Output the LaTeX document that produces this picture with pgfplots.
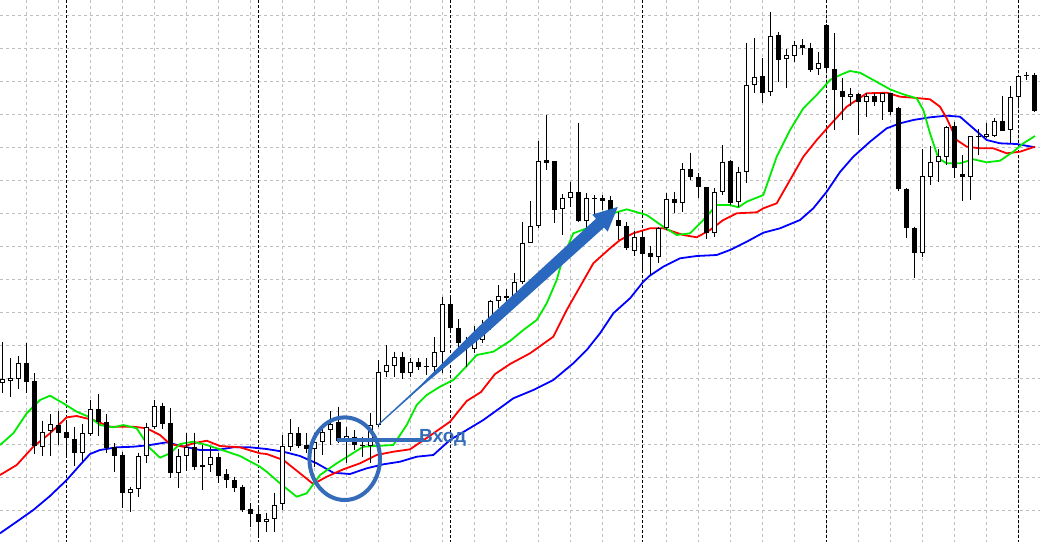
\documentclass[border=0pt]{standalone}
\usepackage{pgfplots}
\usepackage{pgfplotstable}
\pgfplotsset{compat=1.18}
\usepackage{fontspec}
\setmainfont{Liberation Sans}

\definecolor{jaw}{RGB}{0,0,255}
\definecolor{teeth}{RGB}{255,0,0}
\definecolor{lips}{RGB}{0,235,0}
\definecolor{annblue}{RGB}{52,108,186}
\definecolor{arrowblue}{RGB}{42,104,192}

% candles, pixel rows (y grows downwards): open high low close
\pgfplotstableread{
i o h l c
1 383.3 341.7 392.7 379.3
2 380.7 358 396.7 378
3 379.3 356 389 363.3
4 363.3 343.3 393.3 381.7
5 381 373.3 454.3 446
6 446.7 420.7 456 432.3
7 430.7 414.3 456 424.3
8 425 411 445 432.7
9 432.3 422.7 455 437.7
10 439 426.7 466 453.3
11 453.3 424 461 433.3
12 434.3 400 436 409.3
13 409.3 394.3 436 422.3
14 422.3 414.3 452.7 447.7
15 446.7 443.3 471.7 455.7
16 455 451.7 508.3 493.3
17 493.3 486.7 511.7 489.3
18 489.3 452.7 496.7 456
19 456 422.7 463.3 426.7
20 426.7 400 429.3 406
21 406 402.7 429.3 424
22 423.3 408.3 477.7 473.3
23 473.3 449.3 487.7 456
24 456 433.3 471 446.7
25 446.7 432.7 470 467.3
26 465 445 490 466.5
27 465 446.7 471.7 456.7
28 457.3 453.3 482.7 475.7
29 474 469.3 487.7 480
30 480 476.7 491.7 488.3
31 486.7 485 511.7 510
32 509 503.3 526.7 514
33 514.3 508.3 536.7 521.7
34 521.7 512.7 531.7 519.3
35 519.3 492.7 531.7 505
36 504 435 510 446
37 446.7 419.3 450.7 433.3
38 433.3 427.3 448.3 446
39 445 433.3 452.7 449.3
40 449.3 433.3 466.7 441.7
41 441.7 426 455 431.7
42 430 411 445 424.3
43 421.7 406.7 443.3 440.7
44 438.3 426.7 462.7 435.7
45 436.7 430 450 445
46 444.5 436.7 456.7 445.5
47 446 413.3 462.7 425
48 425 360 426.7 371.7
49 371.7 345 376.7 365
50 366 351.7 376.7 357.3
51 357.3 351.7 379.3 373.3
52 373.3 358.3 376.7 361.7
53 361.7 358.3 370 366.7
54 366 358.3 375 367
55 366.7 337.3 371.7 352.3
56 351.7 296.7 373.3 304
57 304 297.3 330 328.3
58 328.3 319.3 353.3 342.7
59 348.3 336.7 366.7 343.3
60 349.3 326 353.3 340
61 340 320 343.3 325.7
62 325.7 300 330 301
63 301 285 308.3 295.7
64 295.7 289.3 315 298.3
65 296.7 273.3 300 281.7
66 281.7 221.7 284 242.7
67 242.7 201 243.3 226
68 226 141 228.3 160.7
69 160 115 170 162.7
70 161 161 223.3 210
71 209.3 194.3 235 197.7
72 197.7 181.7 206.7 192.3
73 192.3 122.7 221.7 220.7
74 220.7 193.3 228.3 198.3
75 198 195 215 199
76 198.3 195 210 200.7
77 200 195.7 211.7 210
78 220 211.7 240 226
79 225.7 221.7 250 248.3
80 250.5 231 256 236.5
81 237 231 270 254
82 253.3 245.7 275 257.3
83 257.3 226.7 262.7 228.3
84 228.3 193.3 230 199.3
85 199.3 191.7 213.3 202.7
86 202.7 163.3 211.7 169.3
87 169.3 152.7 180 177.3
88 177.3 173.3 198.3 187.3
89 187.3 186.7 239.3 233.3
90 233.3 188.3 236.7 191.7
91 191.7 145 195 161.7
92 161 160 205 203.3
93 202.3 166.7 206.7 171.7
94 171.7 42.7 183.3 85
95 85 38.3 93.3 77.3
96 76 58.3 102.7 92.7
97 92.3 11.7 96 36
98 35 31.7 81.7 60
99 59.3 49.3 88.3 55
100 55.7 40.7 61.7 45
101 45 39.3 55 48.3
102 48.3 42.7 71.7 70
103 69.3 51.7 75 63.3
104 25 24 70 68.3
105 69.3 33.3 130 90
106 91 78.3 120 96.7
107 96.7 88.3 106 94.3
108 94.3 93.3 135 101.7
109 101.7 93.3 116.7 95.7
110 95.7 93.3 106 101.7
111 101.7 92.7 120 93.3
112 93.3 92.7 115 111.7
113 108.3 106.7 190.7 189.3
114 189.3 188.3 238.3 227.7
115 228.3 226.7 278.3 252.7
116 252.7 149.3 256.7 176
117 176.7 146 185 161.7
118 161.7 149.3 181.7 156
119 156.7 126 165 127.3
120 126 121.7 178.3 168.3
121 174 155 201 177.3
122 177.3 136 200 136
123 136.2 129.3 155 137.2
124 137.3 122.7 138.3 134.3
125 136 118.3 136.7 120.7
126 120.7 96 131 130.7
127 130 86 143.3 97.3
128 96.7 75 106.7 75.7
129 75 71.7 80 76
130 75 73.3 111.7 110.7
}\candles

\begin{document}
\begin{tikzpicture}
\begin{axis}[
    scale only axis,
    width=1040pt, height=542pt,
    xmin=0, xmax=1040, ymin=0, ymax=542,
    y dir=reverse,
    axis line style={draw=none},
    tick style={draw=none},
    xticklabels={}, yticklabels={},
    xtick={26.7,58.7,...,1018.8},
    ytick={15.7,48.7,...,511},
    grid=major,
    grid style={draw=gray!50, dash pattern=on 3pt off 3pt, line width=0.8pt},
    extra x ticks={66.7,258.7,450.7,642.7,826.7,1018.7},
    extra x tick labels={},
    extra x tick style={grid=major, grid style={draw=black, dash pattern=on 3pt off 2pt, line width=0.8pt}},
    clip=true,
]
\coordinate (bl) at (rel axis cs:0,0);
\coordinate (tr) at (rel axis cs:1,1);

% alligator: jaw, teeth, lips
\addplot[jaw, line width=1.8pt, line join=round] coordinates {
(0,533.3) (16.7,521.7) (33.3,510) (50,496) (66.7,480) (80,465) (90,454) (100,450)
(116.7,447.3) (133.3,446.7) (150,445) (166.7,442.3) (180,445.7) (200,450) (216.7,450)
(233.3,447.3) (250,447.3) (266.7,449) (283.3,451.7) (300,456) (316.7,463.3) (333.3,472.7)
(350,474) (366.7,468.3) (383.3,464.3) (400,461.7) (416.7,456.7) (433.3,455) (450,440)
(466.7,430) (483.3,420) (500,408) (513.3,398.3) (533.3,390) (553.3,380) (573.3,363.3)
(586.7,350) (600,333.3) (613.3,313.3) (630,298.3) (643.3,281.7) (650,275.5) (663.3,266.7)
(680,258.3) (696.7,256) (716.7,255) (730,250) (746.7,241.7) (763.3,232.7) (780,228.3)
(800,220) (813.3,208.3) (826.7,191.7) (840,172) (853.3,156.7) (870,141.7) (886.7,128.3)
(900,123.3) (913.3,120) (930,117.3) (946.7,115.7) (960,116.7) (973.3,128.3) (986.7,140)
(1000,143.3) (1016.7,144) (1035,147.3)
};
\addplot[teeth, line width=1.8pt, line join=round] coordinates {
(0,475) (16.7,465) (33.3,446.7) (50,433.3) (66.7,417.3) (76.7,416) (93.3,420) (110,426.7)
(133.3,426.7) (146.7,428.3) (160,435) (170,444) (183.3,446.7) (193.3,443.3) (206.7,440.7)
(220,446) (240,447.3) (260,453.3) (266.7,454) (283.3,460) (300,473.3) (313.3,484)
(326.7,476.7) (343.3,469.3) (360,463.3) (376.7,455) (393.3,451.7) (410,449.3) (426.7,438)
(450,421.7) (466.7,401) (481,392) (495,374) (510,364) (530,353.3) (553.3,336.7)
(566.7,310) (580,286.7) (593.3,263.3) (610,248.3) (620,240) (633.3,233.3) (650,228.3)
(663.3,228.3) (683.3,235) (696.7,237.3) (710,230) (723.3,220) (736.7,213.3) (756.7,212.3)
(763.3,208.3) (776.7,203.3) (790,180) (803.3,156.7) (816.7,140) (830,125) (846.7,106.7)
(856.7,100) (866.7,93.3) (886.7,92.7) (900,96.7) (913.3,97.7) (930,99.3) (940,106.7)
(946.7,118.3) (956.7,140) (966.7,146.7) (980,148.3) (993.3,148.3) (1006.7,153.3)
(1020,151.7) (1035,146.7)
};
\addplot[lips, line width=1.8pt, line join=round] coordinates {
(0,445) (13.3,433.3) (26.7,413.3) (40,400) (50,395.7) (63.3,403.3) (76.7,411.7) (90,417.3)
(100,425) (113.3,427.3) (123.3,425) (136.7,428.3) (150,448.3) (160,457.7) (170,453.3)
(180,444) (193.3,441.7) (206.7,445) (220,449.3) (240,456) (260,466.7) (266.7,471.7)
(280,483.3) (296.7,496.7) (306.7,493.3) (320,475) (336.7,463.3) (350,455) (363.3,446.7)
(393.3,445) (406.7,425) (416.7,405) (426.7,395) (440,386.7) (453.3,380) (466.7,366)
(476.7,355) (493.3,351.7) (510,341) (523.3,330) (536.7,320) (546.7,303.3) (556.7,280)
(563.3,256.7) (573.3,233.3) (586.7,228.3) (600,220) (613.3,213.3) (626.7,209.3)
(646.7,215) (663.3,226.7) (676.7,235) (690,233.3) (703.3,220) (716.7,205) (730,205)
(738.3,207.3) (746.7,201.7) (763.3,195) (776.7,156.7) (790,130) (803.3,108.3)
(816.7,95) (830,80) (840,75) (850,71) (860,72.7) (873.3,80) (890,89.3) (903.3,94.3)
(916.7,98.3) (923.3,110) (930,133.3) (938.3,158.3) (946.7,163.3) (960,163.3)
(973.3,159.3) (986.7,162.3) (1000,160.7) (1013.3,151.7) (1023.3,143.3) (1035,136)
};

% wicks
\addplot[only marks, mark=*, mark size=0pt, mark options={draw=none, fill=none},
    error bars/.cd, y dir=plus, y explicit, error mark=none,
    error bar style={draw=black, line width=1pt}]
    table[x expr=8*\thisrow{i}-5.3, y=h, y error plus expr=\thisrow{l}-\thisrow{h}] {\candles};
% bodies
\addplot[only marks, mark=*, mark size=0pt, mark options={draw=none, fill=none},
    error bars/.cd, y dir=plus, y explicit, error mark=none,
    error bar style={draw=black, line width=5pt}]
    table[x expr=8*\thisrow{i}-5.3, y expr={min(\thisrow{o},\thisrow{c})},
          y error plus expr={abs(\thisrow{o}-\thisrow{c})}] {\candles};
% hollow inside of rising candles
\addplot[only marks, mark=*, mark size=0pt, mark options={draw=none, fill=none},
    error bars/.cd, y dir=plus, y explicit, error mark=none,
    error bar style={draw=white, line width=3pt}]
    table[x expr=8*\thisrow{i}-5.3, y expr={\thisrow{c}+1},
          y error plus expr={max(\thisrow{o}-\thisrow{c}-2,0)}] {\candles};

% annotations
\fill[arrowblue] (axis cs:378.4,425.4) -- (axis cs:423.1,385.3) -- (axis cs:454.0,359.9)
    -- (axis cs:485.0,334.5) -- (axis cs:604.0,227.5) -- (axis cs:607.7,231.6)
    -- (axis cs:617.8,206.9) -- (axis cs:592.3,214.6) -- (axis cs:596.0,218.7)
    -- (axis cs:478.2,327.1) -- (axis cs:450.0,355.5) -- (axis cs:421.7,383.9)
    -- (axis cs:377.6,424.6) -- cycle;
\draw[annblue, line width=4pt] (axis cs:344.7,458.7) ellipse [x radius=35.3pt, y radius=41.3pt];
\draw[annblue, line width=3.5pt] (axis cs:337,440) -- (axis cs:424,440);
\node[anchor=base west, inner sep=0pt, text=annblue, font=\bfseries\fontsize{19}{19}\selectfont]
    at (axis cs:419,442) {Вход};
\end{axis}
\pgfresetboundingbox
\path (bl) rectangle (tr);
\end{tikzpicture}
\end{document}
